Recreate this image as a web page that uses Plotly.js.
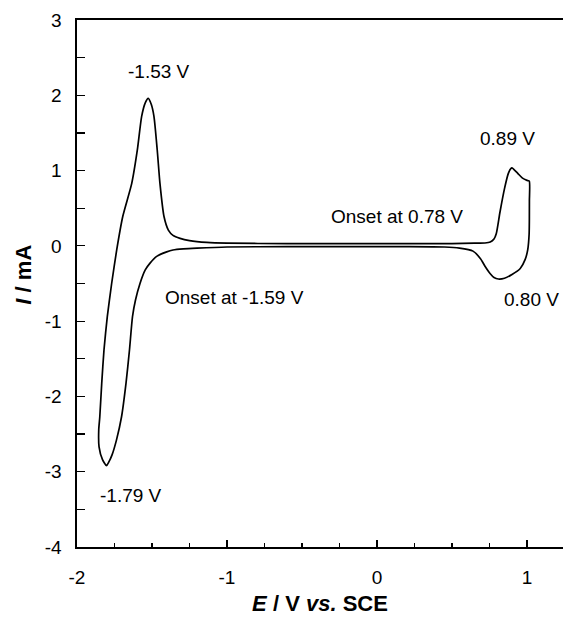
<!DOCTYPE html>
<html>
<head>
<meta charset="utf-8">
<script src="https://cdn.plot.ly/plotly-3.0.1.min.js"></script>
<style>html,body{margin:0;padding:0;background:#fff;}#chart{width:563px;height:619px;}</style>
</head>
<body>
<div id="chart"></div>
<script>
// Cyclic voltammogram: potential (V vs. SCE) and current (mA)
const E_V = [
  -1.855, -1.848, -1.835, -1.82, -1.798, -1.769, -1.735, -1.695, -1.635,
  -1.598, -1.569, -1.545, -1.525, -1.505, -1.487, -1.465, -1.447, -1.42, -1.391,
  -1.36, -1.313, -1.25, -1.135, -1.0, -0.6, -0.2, 0.2, 0.5, 0.65,
  0.72, 0.755, 0.78, 0.795, 0.82, 0.85, 0.875, 0.89, 0.90, 0.915,
  0.94, 0.97, 1.0, 1.015, 1.016, 1.014, 1.005, 0.988, 0.955, 0.90, 0.85, 0.809,
  0.78, 0.755, 0.72, 0.69, 0.64, 0.55, 0.45, 0.2, -0.2, -0.6, -1.0,
  -1.2, -1.291, -1.36, -1.402, -1.469, -1.513, -1.545, -1.58, -1.61, -1.63,
  -1.65, -1.673, -1.703, -1.737, -1.767, -1.79, -1.803, -1.83, -1.853, -1.855
];
const I_mA = [
  -2.44, -2.27, -1.82, -1.38, -0.94, -0.50, -0.05, 0.39, 0.83,
  1.27, 1.72, 1.90, 1.96, 1.88, 1.72, 1.27, 0.83, 0.39, 0.21,
  0.14, 0.10, 0.07, 0.045, 0.035, 0.03, 0.03, 0.03, 0.03, 0.035,
  0.038, 0.05, 0.09, 0.16, 0.45, 0.76, 0.96, 1.02, 1.035, 1.01,
  0.96, 0.90, 0.87, 0.86, 0.60, 0.15, -0.05, -0.18, -0.30, -0.38, -0.43, -0.44,
  -0.42, -0.37, -0.27, -0.17, -0.07, -0.03, -0.015, -0.01, -0.01, -0.01, -0.015,
  -0.03, -0.04, -0.055, -0.08, -0.14, -0.23, -0.32, -0.50, -0.72, -0.94,
  -1.38, -1.82, -2.27, -2.58, -2.78, -2.88, -2.92, -2.84, -2.67, -2.44
];
const xTickVals = [-2, -1, 0, 1];
const xTickText = ["-2", "-1", "0", "1"];
const yTickVals = [-4, -3, -2, -1, 0, 1, 2, 3];
const yTickText = ["-4", "-3", "-2", "-1", "0", "1", "2", "3"];
const peakLabels = ["-1.53 V", "-1.79 V", "0.89 V", "Onset at 0.78 V", "0.80 V", "Onset at -1.59 V"];

const FONT = "Liberation Sans, Arial, sans-serif";
const trace = {
  x: E_V, y: I_mA, type: "scatter", mode: "lines",
  line: {color: "#000", width: 1.7, shape: "spline", smoothing: 0.6},
  hoverinfo: "skip"
};
const annPos = [
  [-1.453, 2.31], [-1.64, -3.31], [0.867, 1.43], [0.133, 0.385], [1.033, -0.71], [-0.953, -0.68]
];
const annotations = peakLabels.map((t, i) => ({
  text: t, x: annPos[i][0], y: annPos[i][1], xref: "x", yref: "y",
  showarrow: false, font: {family: FONT, size: 19, color: "#000"}
}));
annotations.push({
  text: "<b><i>I</i> / mA</b>", xref: "paper", yref: "paper", x: -0.112, y: 0.516,
  xanchor: "center", yanchor: "middle", textangle: -90, showarrow: false,
  font: {family: FONT, size: 22, color: "#000"}
});

const layout = {
  width: 563, height: 619,
  margin: {l: 77, r: 0, t: 20, b: 72, pad: 0},
  paper_bgcolor: "#fff", plot_bgcolor: "#fff",
  showlegend: false,
  font: {family: FONT, size: 19, color: "#000"},
  xaxis: {
    range: [-2, 1.24], showgrid: false, zeroline: false,
    showline: true, linecolor: "#000", linewidth: 1.6, mirror: true,
    ticks: "inside", ticklen: 7, tickwidth: 1.2, tickcolor: "#000",
    tickvals: xTickVals, ticktext: xTickText, ticklabelstandoff: 13,
    tickfont: {family: FONT, size: 19, color: "#000"},
    minor: {dtick: 0.25, tick0: 0, ticks: "inside", ticklen: 4, tickwidth: 1.2, tickcolor: "#000"},
    title: {text: "<b><i>E</i> / V <i>vs.</i> SCE</b>", font: {family: FONT, size: 22, color: "#000"}, standoff: 8}
  },
  yaxis: {
    range: [-4, 3], showgrid: false, zeroline: false,
    showline: true, linecolor: "#000", linewidth: 1.6, mirror: false,
    ticks: "inside", ticklen: 8, tickwidth: 1.2, tickcolor: "#000",
    tickvals: yTickVals, ticktext: yTickText, ticklabelstandoff: 10,
    tickfont: {family: FONT, size: 19, color: "#000"},
    minor: {dtick: 0.5, tick0: 0, ticks: "inside", ticklen: 8, tickwidth: 1.2, tickcolor: "#000"}
  },
  annotations: annotations
};
Plotly.newPlot("chart", [trace], layout, {staticPlot: true, displayModeBar: false});
</script>
</body>
</html>
